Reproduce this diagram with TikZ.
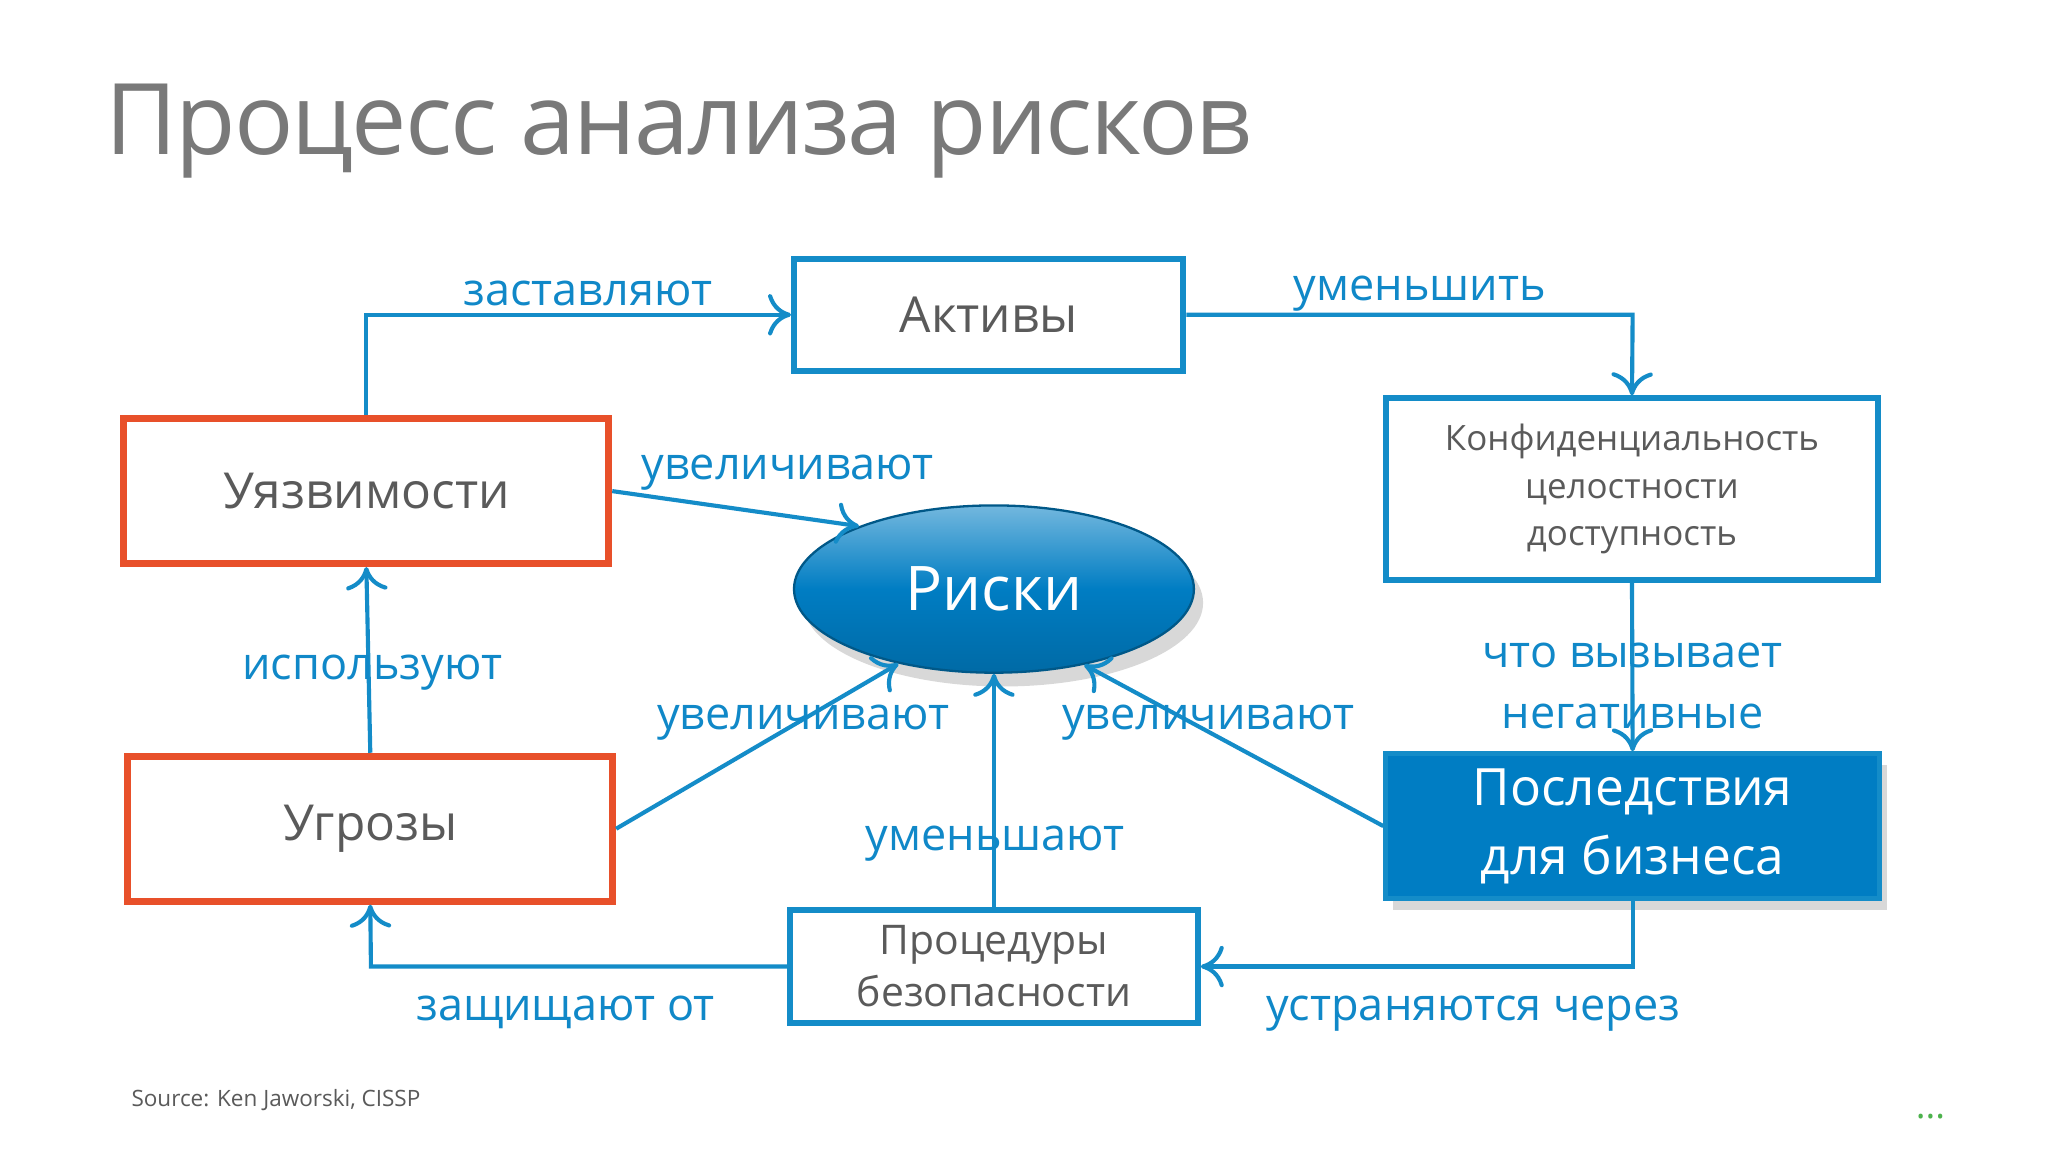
\documentclass[tikz,border=0pt]{standalone}
\usepackage{fontspec}
\setmainfont{Open Sans}
\usetikzlibrary{shapes.geometric,shadows,arrows.meta}
\definecolor{lblue}{RGB}{16,136,200}
\definecolor{bdblue}{RGB}{20,140,200}
\definecolor{ored}{RGB}{232,80,42}
\definecolor{gtext}{RGB}{90,90,90}
\definecolor{fillblue}{RGB}{0,125,195}
\tikzset{
 box/.style={draw=bdblue,line width=1.3pt,fill=white,text=gtext,align=center,inner sep=0pt},
 rbox/.style={draw=ored,line width=1.5pt,fill=white,text=gtext,inner sep=0pt},
 conn/.style={draw=bdblue,line width=0.9pt,-{To[length=5pt,width=9pt]}},
 lbl/.style={text=lblue,font=\fontsize{9.8}{12}\selectfont,inner sep=0pt},
}
\begin{document}
\begin{tikzpicture}[x=0.01cm,y=-0.01cm]
\useasboundingbox[fill=white] (0,0) rectangle (1568,882);
\node[anchor=base west,inner sep=0pt,text=gray!95!black,font=\fontsize{21.5}{24}\selectfont\addfontfeatures{LetterSpace=-2}] (title) at (80,118) {Процесс анализа рисков};
\node[box,minimum width=2.98cm,minimum height=0.86cm,font=\fontsize{10.8}{13}\selectfont] (akt) at (757,241) {Активы};
\node[rbox,minimum width=3.71cm,minimum height=1.11cm,font=\fontsize{10.8}{13}\selectfont] (uyaz) at (280.5,376) {Уязвимости};
\node[rbox,minimum width=3.71cm,minimum height=1.11cm,font=\fontsize{10.8}{13}\selectfont] (ugr) at (283.5,634.5) {Угрозы};
\node[box,minimum width=3.77cm,minimum height=1.39cm,font=\fontsize{7.6}{10.4}\selectfont] (konf) at (1249.5,374.5) {Конфиденциальность\\целостности\\доступность};
\node[box,minimum width=3.12cm,minimum height=0.86cm,font=\fontsize{8.9}{11.3}\selectfont] (proc) at (761,740) {Процедуры\\безопасности};
\node[draw=bdblue,line width=1pt,fill=fillblue,text=white,align=center,minimum width=3.78cm,minimum height=1.11cm,font=\fontsize{11.2}{15}\selectfont,drop shadow={opacity=0.3,shadow xshift=1.5pt,shadow yshift=-2.5pt},inner sep=0pt] (posl) at (1250,632.5) {Последствия\\для бизнеса};
\node[ellipse,minimum width=3.06cm,minimum height=1.28cm,top color=fillblue!55!white,bottom color=fillblue!85!black,middle color=fillblue,draw=fillblue!70!black,line width=0.5pt,text=white,font=\fontsize{13.4}{16}\selectfont,drop shadow={opacity=0.3,shadow xshift=2pt,shadow yshift=-3pt},inner sep=0pt] (risk) at (761,451) {Риски};
\coordinate (c1) at (280,241);
\coordinate (c2) at (1250,241);
\coordinate (c3) at (1250,740);
\coordinate (c4) at (284,740);
\draw[conn] (uyaz.north -| c1) -- (c1) -- (akt.west);
\draw[conn] (akt.east) -- (c2) -- (konf.north);
\draw[conn] (uyaz.east) -- (risk.155);
\draw[conn] (ugr.north) -- (uyaz.south);
\draw[conn] (ugr.east) -- (risk.218);
\draw[conn] (proc.north) -- (risk.south);
\draw[conn] (posl.west) -- (risk.320);
\draw[conn] (konf.south) -- (posl.north);
\draw[conn] (posl.south) -- (c3) -- (proc.east);
\draw[conn] (proc.west) -- (c4) -- (ugr.south);
\node[lbl] (l1) at (450,225) {заставляют};
\node[lbl] (l2) at (1087,225) {уменьшить};
\node[lbl] (l3) at (603,362) {увеличивают};
\node[lbl] (l4) at (285,515) {используют};
\node[lbl] (l5) at (615,553) {увеличивают};
\node[lbl] (l6) at (925,553) {увеличивают};
\node[lbl] (l7) at (762,646) {уменьшают};
\node[lbl,align=center,font=\fontsize{9.8}{13.2}\selectfont] (l8) at (1250,525) {что вызывает\\негативные};
\node[lbl] (l9) at (1128,776) {устраняются через};
\node[lbl] (l10) at (433,775) {защищают от};
\node[anchor=west,inner sep=0pt,text=gtext,font=\fontsize{4.9}{6}\selectfont] (src) at (100,842) {Source: Ken Jaworski, CISSP};
\node[text=green!40!gray,font=\fontsize{8}{8}\selectfont] (dots) at (1478,855) {...};
\end{tikzpicture}
\end{document}
